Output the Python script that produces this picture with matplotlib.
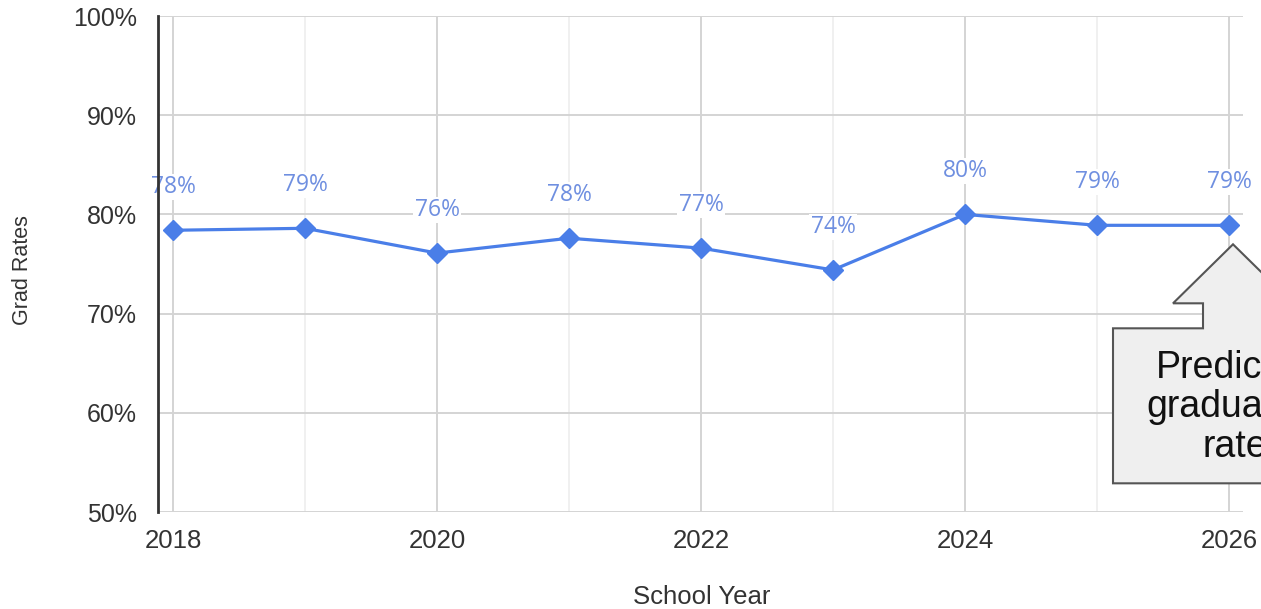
import numpy as np
import matplotlib
matplotlib.use("Agg")
import matplotlib.pyplot as plt
from matplotlib.patches import Polygon
from matplotlib.transforms import IdentityTransform

years = [2018, 2019, 2020, 2021, 2022, 2023, 2024, 2025, 2026]
grad_rates = [78.4, 78.6, 76.1, 77.6, 76.6, 74.4, 80.0, 78.9, 78.9]
y_ticks = [50, 60, 70, 80, 90, 100]
x_ticks = [2018, 2020, 2022, 2024, 2026]
callout_text = "Predicted\ngraduation\nrate"

W, H = 1261, 609
fig = plt.figure(figsize=(W / 100, H / 100), dpi=100)
ax = fig.add_axes([158 / W, (H - 512) / H, (1243 - 158) / W, (512 - 16) / H])

line_col = '#4a7ee8'
label_col = '#6f8fe0'

ax.plot(years, grad_rates, color=line_col, lw=2.3, marker='D', markersize=10,
        zorder=4, clip_on=False)

for x, v in zip(years, grad_rates):
    ax.annotate('{:.0f}%'.format(v), (x, v), xytext=(0, 31), textcoords='offset points',
                ha='center', va='center', fontsize=16.5, color=label_col, family='Open Sans',
                bbox=dict(boxstyle='square,pad=0.05', fc='white', ec='none'), zorder=5)

ax.set_xlim(2017.886, 2026.106)
ax.set_ylim(50, 100)
ax.set_xticks(x_ticks)
ax.set_xticks(years, minor=True)
ax.set_yticks(y_ticks)
ax.set_yticklabels(['{}%'.format(t) for t in y_ticks])
ax.grid(True, which='major', color='#d4d4d4', lw=1.4, zorder=0)
ax.grid(True, which='minor', axis='x', color='#ededed', lw=1.2, zorder=0)
ax.tick_params(which='both', length=0)
ax.tick_params(axis='y', pad=15, labelsize=18, labelcolor='#333333')
ax.tick_params(axis='x', pad=12, labelsize=18.5, labelcolor='#333333')
for lab in ax.get_xticklabels() + ax.get_yticklabels():
    lab.set_family('Liberation Sans')
for s in ['top', 'right', 'bottom']:
    ax.spines[s].set_visible(False)
ax.spines['left'].set_color('#333333')
ax.spines['left'].set_linewidth(2)
ax.spines['left'].set_zorder(6)

fig.text(23 / W, 1 - 270 / H, "Grad Rates", rotation=90, ha='center', va='center',
         fontsize=15.5, color='#333333', family='Liberation Sans')
fig.text(702 / W, 1 - 597 / H, "School Year", ha='center', va='center',
         fontsize=18.5, color='#333333', family='Liberation Sans')

# callout arrow box pointing at last point
px, py = ax.transData.transform((years[-1], grad_rates[-1]))
tx, ty = px + 4, py - 19
shape = [(0, 0), (60, 59), (30, 59), (30, 84), (120, 84), (120, 239), (-120, 239),
         (-120, 84), (-30, 84), (-30, 59), (-60, 59)]
verts = [(tx + dx, ty - dy) for dx, dy in shape]
ax.add_patch(Polygon(verts, closed=True, fc='#efefef', ec='#555555', lw=1.5,
                     transform=IdentityTransform(), clip_on=False, zorder=6))
ax.text(tx + 2, ty - 163, callout_text, transform=IdentityTransform(), ha='center',
        va='center', fontsize=27, linespacing=1.12, family='Liberation Sans',
        color='#111111', zorder=7, clip_on=False)

fig.savefig("out.png", dpi=100)
